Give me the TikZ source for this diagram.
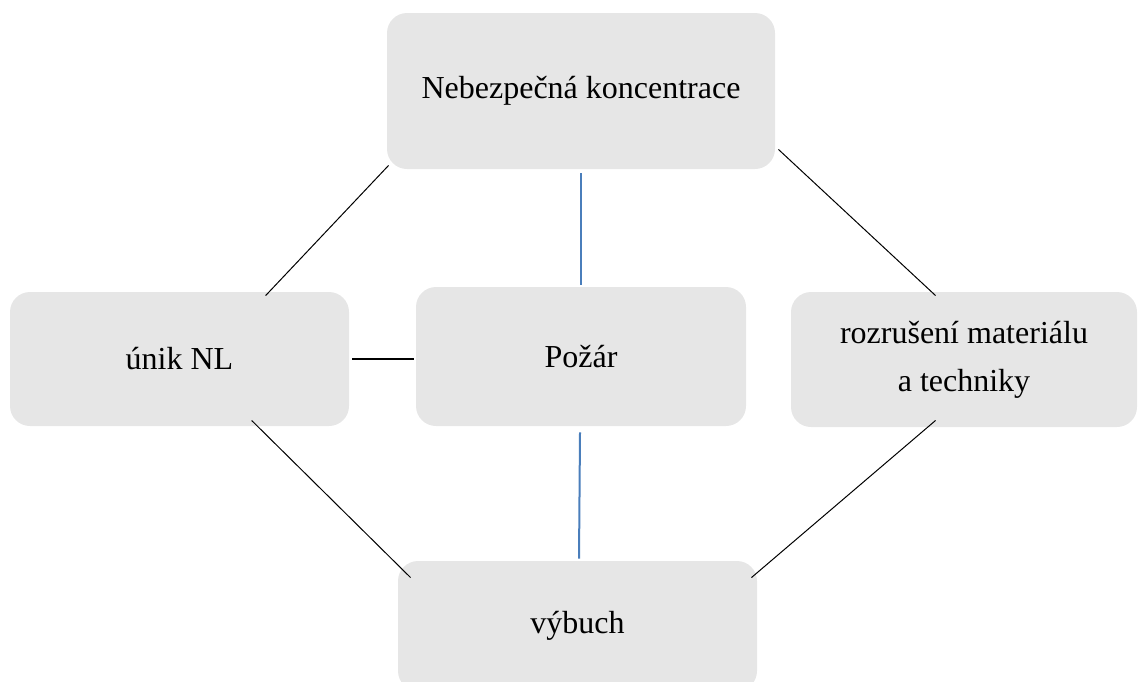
\documentclass[tikz,border=0pt]{standalone}
\usepackage{fontspec}
\setmainfont{Liberation Serif}
\definecolor{boxgray}{HTML}{E6E6E6}
\definecolor{linkblue}{HTML}{4A7EBB}

\begin{document}
\begin{tikzpicture}[x=0.5pt,y=-0.5pt,
    eventbox/.style={fill=boxgray, rounded corners=10pt, align=center,
      font=\fontsize{16}{24}\selectfont, inner sep=0pt},
    thinlink/.style={black, line width=0.5pt},
    bluelink/.style={linkblue, line width=1pt}]
    \useasboundingbox (0,0) rectangle (1138,681);
    \clip (0,0) rectangle (1138,681);

    % Top box
    \node[eventbox, minimum width=194pt, minimum height=78pt] (conc) at (581,91) {Nebezpečná koncentrace};

    % Middle row
    \node[eventbox, minimum width=169.5pt, minimum height=67pt] (leak) at (179.5,359) {únik NL};
    \node[eventbox, minimum width=165pt, minimum height=69.5pt] (fire) at (581,356.5) {Požár};
    \node[eventbox, minimum width=173pt, minimum height=67.5pt] (damage) at (964,359.5) {rozrušení materiálu\\a techniky};

    % Bottom box
    \node[eventbox, minimum width=179.5pt, minimum height=65pt] (blast) at (577.5,626) {výbuch};

    % Links
    \draw[thinlink] ([shift={(2,-4)}]conc.south west) -- ([shift={(256,4)}]leak.north west);
    \draw[thinlink] ([shift={(3,-20)}]conc.south east) -- ([shift={(145,4)}]damage.north west);
    \draw[bluelink] ([yshift=-2pt]conc.south) -- ([yshift=1pt]fire.north);
    \draw[black, line width=1.4pt] ([xshift=1.5pt]leak.east) -- ([xshift=-1pt]leak.east -| fire.west);
    \draw[bluelink] ([shift={(-1,6)}]fire.south) -- ([shift={(1.5,-2)}]blast.north);
    \draw[thinlink] ([shift={(242,-6)}]leak.south west) -- ([shift={(13,17)}]blast.north west);
    \draw[thinlink] ([shift={(145,-7)}]damage.south west) -- ([shift={(-6,17)}]blast.north east);
\end{tikzpicture}
\end{document}
